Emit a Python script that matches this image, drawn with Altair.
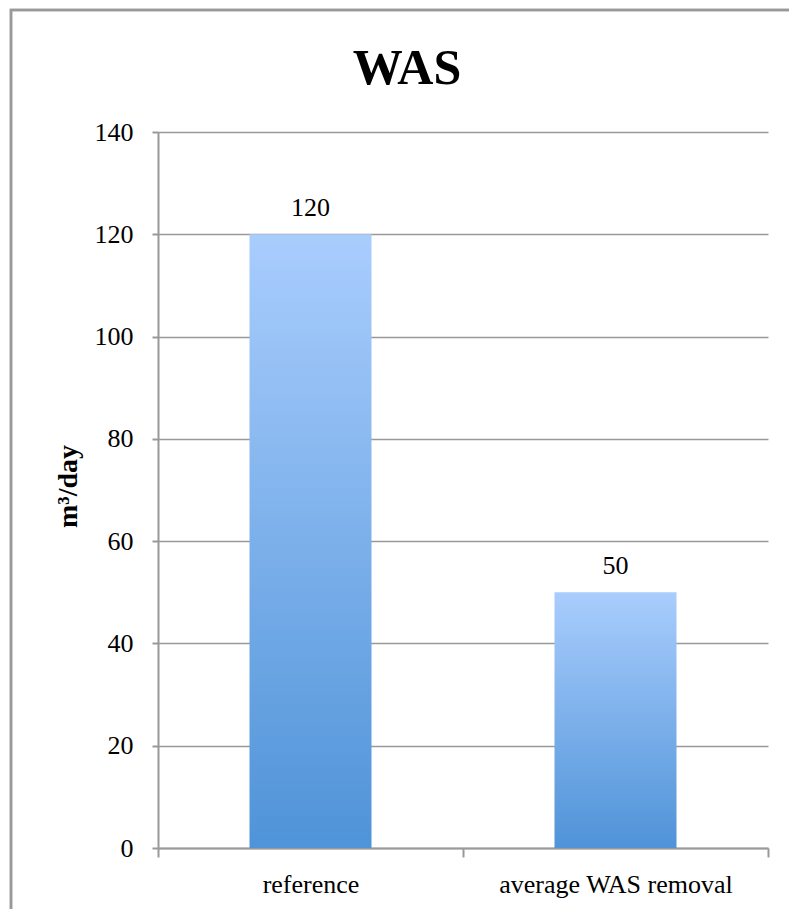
import altair as alt
import pandas as pd

categories = ["reference", "average WAS removal"]
values = [120, 50]
y_ticks = [0, 20, 40, 60, 80, 100, 120, 140]

df = pd.DataFrame({"category": categories, "value": values})

FONT = "Liberation Serif"
gradient = alt.LinearGradient(
    gradient="linear",
    stops=[alt.GradientStop(color="#A9CDFD", offset=0),
           alt.GradientStop(color="#4F93D8", offset=1)],
    x1=0, x2=0, y1=0, y2=1,
)

x_enc = alt.X(
    "category:N", sort=categories, title=None,
    scale=alt.Scale(paddingInner=0, paddingOuter=0),
    axis=alt.Axis(labelAngle=0, tickBand="extent", tickSize=9, labelPadding=14,
                  labelFontSize=26, labelFont=FONT, labelColor="black", labelLimit=500,
                  domainColor="#999999", tickColor="#999999", domainWidth=2, tickWidth=2,
                  grid=False),
)
y_enc = alt.Y(
    "value:Q", title="m³/day",
    scale=alt.Scale(domain=[0, 140], nice=False),
    axis=alt.Axis(values=y_ticks, tickSize=6, labelPadding=19, labelFontSize=26,
                  labelFont=FONT, labelColor="black", domainColor="#999999",
                  tickColor="#999999", domainWidth=2, tickWidth=2,
                  gridColor="#999999", gridWidth=1.5,
                  titleFont=FONT, titleFontSize=28, titleFontWeight="bold",
                  titleColor="black", titleX=-90, titleY=354, titleAngle=-90,
                  titleBaseline="middle", titleAlign="center"),
)

bars = alt.Chart(df).mark_bar(width={"band": 0.4}, fill=gradient).encode(x=x_enc, y=y_enc)
labels = alt.Chart(df).mark_text(font=FONT, fontSize=26, color="black", dy=-18,
                                 baseline="alphabetic").encode(
    x=alt.X("category:N", sort=categories), y="value:Q", text="value:Q")

border = alt.Chart(df).mark_rect(fill=None, stroke="#999999", strokeWidth=2.5, clip=False).encode(
    x=alt.value(-147), x2=alt.value(680), y=alt.value(-122), y2=alt.value(820))

chart = alt.layer(border, bars, labels).properties(
    width=610, height=716,
    padding={"left": 158, "top": 132, "right": 21, "bottom": 61},
    autosize=alt.AutoSizeParams(type="none"),
    title=alt.TitleParams("WAS", font=FONT, fontSize=50, fontWeight="bold",
                          color="black", anchor="middle", dx=-56, offset=-125,
                          frame="group", baseline="alphabetic"),
).configure_view(stroke=None).configure_axisY(gridDash=[])

chart.save("out.html", embed_options={"renderer": "svg", "actions": False})
